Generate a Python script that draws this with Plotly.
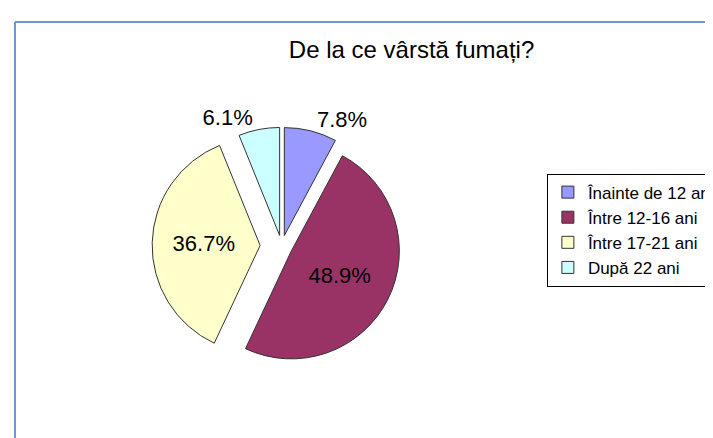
import plotly.graph_objects as go

labels = ["Înainte de 12 ani", "Între 12-16 ani", "Între 17-21 ani", "După 22 ani"]
values = [7.8, 48.9, 36.7, 6.1]
colors = ["#9999FF", "#993366", "#FFFFCC", "#CCFFFF"]
pulls = [0.1, 0.1, 0.2, 0.1]
text_pos = ["outside", "inside", "inside", "outside"]

fig = go.Figure(go.Pie(
    labels=labels, values=values, sort=False, direction="clockwise", rotation=0,
    marker=dict(colors=colors, line=dict(color="#333333", width=1)),
    pull=pulls, textinfo="percent", texttemplate="%{value:.1f}%",
    textposition=text_pos,
    textfont=dict(family="Liberation Sans, Arial", size=22, color="black"),
    insidetextorientation="horizontal",
    domain=dict(x=[0.203, 0.568], y=[0.16, 0.753]),
    showlegend=True,
))

fig.update_layout(
    width=713, height=438,
    margin=dict(l=0, r=0, t=0, b=0),
    paper_bgcolor="white", plot_bgcolor="white",
    font=dict(family="Liberation Sans, Arial", color="black"),
    title=dict(text="De la ce vârstă fumați?", x=0.566, xanchor="center", y=0.906, yanchor="middle",
               font=dict(size=24, color="black")),
    legend=dict(x=0.759, y=0.622, xanchor="left", yanchor="top",
                bordercolor="black", borderwidth=1, bgcolor="white",
                font=dict(size=17, color="black"), traceorder="normal"),
    shapes=[
        dict(type="line", xref="paper", yref="paper", x0=7/713, x1=7/713, y0=0, y1=1-14/438,
             line=dict(color="#6F96CA", width=2)),
        dict(type="line", xref="paper", yref="paper", x0=7/713, x1=1, y0=1-14/438, y1=1-14/438,
             line=dict(color="#6F96CA", width=2)),
    ],
)

fig.write_html("out.html")
